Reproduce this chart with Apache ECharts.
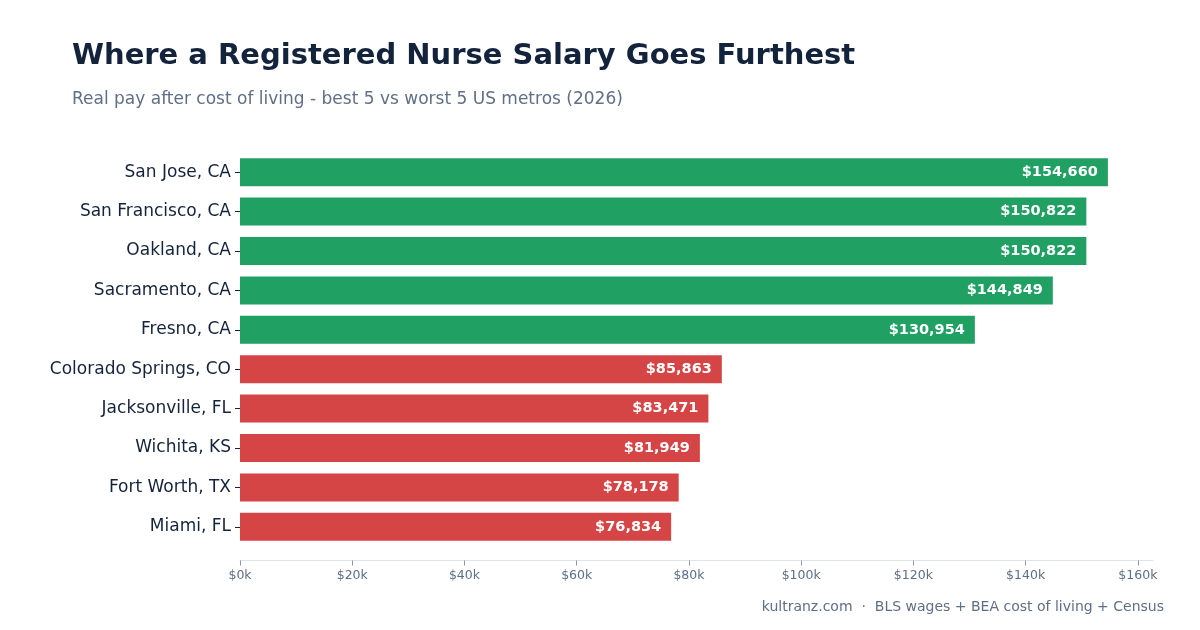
<!DOCTYPE html>
<html><head><meta charset="utf-8">
<script src="https://cdn.jsdelivr.net/npm/echarts@6/dist/echarts.min.js"></script>
<style>html,body{margin:0;padding:0;background:#fff}#c{width:1200px;height:630px}</style>
</head><body><div id="c"></div>
<script>
const categories = ["San Jose, CA","San Francisco, CA","Oakland, CA","Sacramento, CA","Fresno, CA","Colorado Springs, CO","Jacksonville, FL","Wichita, KS","Fort Worth, TX","Miami, FL"];
const values = [154660,150822,150822,144849,130954,85863,83471,81949,78178,76834];
const groups = ["best","best","best","best","best","worst","worst","worst","worst","worst"];
const tickValues = [0,20000,40000,60000,80000,100000,120000,140000,160000];
const colors = {best:"#21a064", worst:"#d64545"};

const chart = echarts.init(document.getElementById('c'), null, {renderer:'canvas'});
const font = "'DejaVu Sans', sans-serif";
chart.setOption({
  backgroundColor:'#fff',
  animation:false,
  textStyle:{fontFamily:font},
  title:[
    {text:"Where a Registered Nurse Salary Goes Furthest", left:67, top:37,
     textStyle:{fontFamily:font,fontSize:29,fontWeight:'bold',color:'#14233c'}},
    {text:"Real pay after cost of living - best 5 vs worst 5 US metros (2026)", left:67, top:86,
     textStyle:{fontFamily:font,fontSize:17,fontWeight:'normal',color:'#5f6f86'}},
    {text:"kultranz.com  ·  BLS wages + BEA cost of living + Census", right:31, top:595,
     textStyle:{fontFamily:font,fontSize:14,fontWeight:'normal',color:'#5f6f86'}}
  ],
  grid:{left:240, right:47, top:152.5, bottom:83.5, containLabel:false},
  xAxis:{type:'value', min:0, max:162700, offset:14,
    axisLine:{show:true, lineStyle:{color:'#dfe3ea', width:1}},
    axisTick:{show:true, customValues:tickValues, length:5, lineStyle:{color:'#8a97aa'}},
    axisLabel:{customValues:tickValues, color:'#5f6f86', fontSize:12.5, margin:9, fontFamily:font,
      formatter:v=>'$'+Math.round(v/1000)+'k'},
    splitLine:{show:false}
  },
  yAxis:{type:'category', data:categories, inverse:true,
    axisLine:{show:false},
    axisTick:{show:true, length:5, alignWithLabel:true, lineStyle:{color:'#14233c'}},
    axisLabel:{color:'#14233c', fontSize:17, margin:9, fontFamily:font}
  },
  series:[{
    type:'bar', barWidth:28,
    data: values.map((v,i)=>({value:v, itemStyle:{color:colors[groups[i]]}})),
    label:{show:true, position:'insideRight', distance:10, color:'#fff', fontWeight:'bold', fontSize:14.5, fontFamily:font,
      formatter:p=>'$'+p.value.toLocaleString('en-US')}
  }]
});
</script></body></html>
